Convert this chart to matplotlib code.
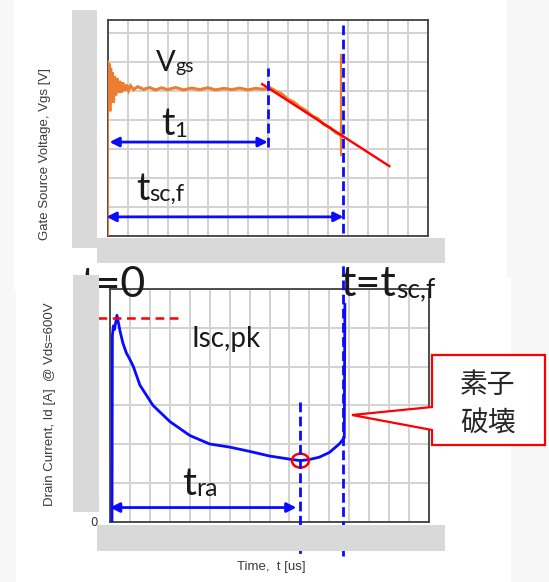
import matplotlib
matplotlib.use("Agg")
import matplotlib.pyplot as plt
import matplotlib.transforms as mtransforms
from matplotlib.patches import Rectangle, Polygon, Ellipse
import numpy as np

# ---- data -------------------------------------------------------------
# gate-source voltage (one grid division = 1 time unit)
vgs_t = [0.0, 0.0, 0.04, 0.08, 0.12, 0.16, 0.20, 0.25, 0.30, 0.35, 0.41, 0.47,
         0.54, 0.61, 0.69, 0.77, 0.86, 0.95, 1.05, 1.15, 1.3, 1.5, 1.8, 2.1,
         2.4, 2.7, 3.0, 3.4, 3.8, 4.2, 4.6, 5.0, 5.4, 5.8, 6.2, 6.6, 7.0, 7.4,
         7.8, 8.1, 8.4, 8.7, 9.0, 9.3, 9.6, 9.9, 10.2, 10.5, 10.8, 11.1, 11.4,
         11.6, 11.7]
vgs_v = [0.0, 6.05, 4.5, 5.95, 4.3, 5.8, 4.7, 5.65, 4.6, 5.5, 4.85, 5.45,
         4.95, 5.35, 4.95, 5.3, 5.0, 5.22, 5.02, 5.18, 5.05, 5.15, 5.06, 5.12,
         5.04, 5.11, 5.05, 5.12, 5.04, 5.1, 5.05, 5.11, 5.04, 5.09, 5.05, 5.1,
         5.04, 5.09, 5.06, 5.12, 5.0, 4.9, 4.72, 4.62, 4.45, 4.33, 4.15, 4.05,
         3.85, 3.74, 3.56, 3.5, 3.42]
vgs_fail_v = [2.79, 6.24]          # vertical jump at breakdown
fit_t = [7.72, 14.07]              # straight-line fit of the falling Vgs
fit_v = [5.24, 2.41]

# drain current
id_t = [0.10, 0.12, 0.17, 0.22, 0.35, 0.5, 0.65, 0.82, 1.0, 1.17, 1.5, 2.15,
        3.0, 4.0, 5.0, 6.0, 7.0, 8.0, 9.0, 9.55, 10.0, 10.5, 11.0, 11.5,
        11.75, 11.78]
id_a = [0.0, 4.8, 5.05, 4.95, 5.32, 4.92, 4.6, 4.35, 4.18, 4.0, 3.52, 3.0,
        2.58, 2.22, 2.0, 1.92, 1.81, 1.69, 1.61, 1.57, 1.6, 1.66, 1.78, 2.0,
        2.16, 5.6]

T_1 = 8.0        # end of t1
T_SCF = 11.78    # failure time t_sc,f
T_RA = 9.55      # current minimum t_ra
I_RA = 1.57
I_PK = 5.24      # peak short-circuit current level

# ---- style ------------------------------------------------------------
BLUE = "#0a0aff"
ORANGE = "#ed7d31"
RED = "#ff0000"
GRAYBLK = "#d9d9d9"
GRID = "#d2d2d2"
LATO = "Lato"

W, H = 549, 582
fig = plt.figure(figsize=(W / 100, H / 100), dpi=100)
fig.patch.set_facecolor("white")


def px_axes(x0, y0, x1, y1, **kw):
    return fig.add_axes([x0 / W, 1 - y1 / H, (x1 - x0) / W, (y1 - y0) / H], **kw)


# background layer (pixel coordinates)
bg = fig.add_axes([0, 0, 1, 1], zorder=0)
bg.set_xlim(0, W)
bg.set_ylim(H, 0)
bg.axis("off")
bg.add_patch(Rectangle((0, 0), 14, 290, color="#f7f7f7", lw=0))
bg.add_patch(Rectangle((0, 290), 16, H - 290, color="#f7f7f7", lw=0))
bg.add_patch(Rectangle((507, 0), W - 507, 278, color="#f7f7f7", lw=0))
bg.add_patch(Rectangle((511, 278), W - 511, H - 278, color="#f7f7f7", lw=0))

# ---- panels -----------------------------------------------------------
ax_top = px_axes(107.5, 20, 428, 236, zorder=1)
ax_bot = px_axes(110, 289, 429, 521.5, zorder=1)

for ax, ymax in ((ax_top, 7.45), (ax_bot, 6.0)):
    ax.set_xlim(0, 16)
    ax.set_ylim(0, ymax)
    ax.set_xticks(np.arange(0, 17, 1))
    ax.set_yticks(np.arange(0, int(ymax) + 1, 1))
    ax.grid(True, color=GRID, lw=1.4)
    ax.set_axisbelow(True)
    ax.tick_params(length=0, labelbottom=False, labelleft=False)
    for s in ax.spines.values():
        s.set_color("#404040")
        s.set_linewidth(1.3)

ax_bot.tick_params(labelleft=True, pad=9, labelsize=8.5, labelcolor="#333333")
ax_bot.set_yticklabels(["0"] + [""] * 6)

# gate voltage traces
ax_top.plot(vgs_t, vgs_v, color=ORANGE, lw=2.2, solid_joinstyle="miter", zorder=3)
ax_top.plot([T_SCF - 0.12] * 2, vgs_fail_v, color=ORANGE, lw=1.6, zorder=3)
ax_top.plot(fit_t, fit_v, color=RED, lw=1.7, zorder=4, clip_on=False)
ax_top.plot([T_1, T_1], [3.08, 5.78], color=BLUE, lw=2.0, ls=(0, (3.5, 1.6)), zorder=5)

arrow_kw = dict(arrowstyle="<|-|>", color=BLUE, lw=2.0, mutation_scale=14,
                shrinkA=0, shrinkB=0)
ax_top.annotate("", xy=(T_1, 3.24), xytext=(0.1, 3.24), arrowprops=arrow_kw,
                annotation_clip=False, zorder=5)
ax_top.annotate("", xy=(T_SCF, 0.66), xytext=(-0.05, 0.66), arrowprops=arrow_kw,
                annotation_clip=False, zorder=5)

# drain current trace
ax_bot.plot(id_t, id_a, color=BLUE, lw=2.0, zorder=3)
ax_bot.plot([-0.6, 3.6], [I_PK, I_PK], color=RED, lw=1.8, ls=(0, (3.5, 2.2)),
            clip_on=False, zorder=4)
ax_bot.add_patch(Ellipse((T_RA, I_RA), 0.85, 0.36, fill=False, ec=RED, lw=1.8,
                         zorder=5))
ax_bot.annotate("", xy=(T_RA - 0.2, 0.36), xytext=(0.0, 0.36), arrowprops=arrow_kw,
                annotation_clip=False, zorder=5)

# ---- overlay layer (pixel coordinates) --------------------------------
ov = fig.add_axes([0, 0, 1, 1], zorder=3)
ov.set_xlim(0, W)
ov.set_ylim(H, 0)
ov.axis("off")
ov.patch.set_alpha(0)

dash = (0, (3.5, 1.6))
top_x = mtransforms.blended_transform_factory(ax_top.transData, ov.transData)
bot_x = mtransforms.blended_transform_factory(ax_bot.transData, ov.transData)
ov.plot([T_SCF, T_SCF], [25, 556], transform=top_x, color=BLUE, lw=2.0, ls=dash,
        zorder=1)
ov.plot([T_RA, T_RA], [402, 556], transform=bot_x, color=BLUE, lw=2.0, ls=dash,
        zorder=1)

# frame blocks
ov.add_patch(Rectangle((72, 10), 25, 238, color=GRAYBLK, lw=0, zorder=2))
ov.add_patch(Rectangle((97, 238), 348, 25, color=GRAYBLK, lw=0, zorder=2))
ov.add_patch(Rectangle((97, 525), 348, 26, color=GRAYBLK, lw=0, zorder=2))

renderer = fig.canvas.get_renderer()


def sub_label(x, y, main, sub, size, subsize, dy=0, zorder=4):
    t = ov.text(x, y, main, fontsize=size, family=LATO, va="baseline", ha="left",
                color="#1a1a1a", zorder=zorder)
    bb = t.get_window_extent(renderer=renderer)
    x1 = ov.transData.inverted().transform((bb.x1, bb.y0))[0]
    ov.text(x1, y + dy, sub, fontsize=subsize, family=LATO, va="baseline",
            ha="left", color="#1a1a1a", zorder=zorder)


sub_label(156, 71, "V", "gs", 21, 14, dy=1)
sub_label(161, 135, "t", "1", 27, 16, dy=2)
sub_label(136, 200, "t", "sc,f", 27, 17, dy=1)
sub_label(182, 495, "t", "ra", 28, 18, dy=1)
sub_label(340, 296, "t=t", "sc,f", 31, 19, dy=1)
ov.text(192, 347, "Isc,pk", fontsize=20, family=LATO, va="baseline", ha="left",
        color="#1a1a1a", zorder=4)
ov.text(145, 297, "t=0", fontsize=31, family=LATO, va="baseline", ha="right",
        color="#1a1a1a", zorder=1.5)
# block left of the current panel sits over the start of the "t=0" label
ov.add_patch(Rectangle((73, 275), 26, 237, color=GRAYBLK, lw=0, zorder=2))

# axis titles
lab_kw = dict(family="Liberation Sans", fontsize=9.5, color="#3a3a3a",
              ha="center", va="center")
ov.text(45, 154, "Gate Source Voltage, Vgs [V]", rotation=90, **lab_kw)
ov.text(50, 404, "Drain Current, Id [A]  @ Vds=600V", rotation=90, **lab_kw)
ov.text(271, 567, "Time,  t [us]", **lab_kw)

# failure callout
ov.add_patch(Polygon([(432, 355), (545, 355), (545, 445), (432, 445), (432, 430),
                      (352, 415), (432, 407)], closed=True, fc="white", ec=RED,
                     lw=1.6, zorder=5))
cjk = dict(family=["Noto Sans CJK JP", "DejaVu Sans"], fontsize=20,
           color="#262626", ha="center", va="center", zorder=6)
ov.text(488, 385, "素子", **cjk)
ov.text(488, 424, "破壊", **cjk)

fig.savefig("out.png", dpi=100, facecolor="white")
